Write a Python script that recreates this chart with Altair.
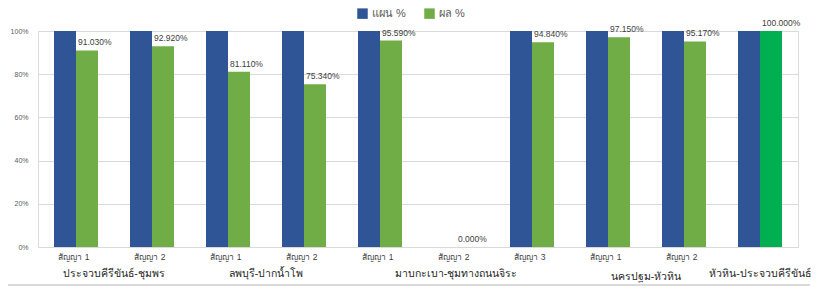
import altair as alt
import pandas as pd

slots = [1, 2, 3, 4, 5, 6, 7, 8, 9, 10]
contracts = ["สัญญา 1", "สัญญา 2", "สัญญา 1", "สัญญา 2", "สัญญา 1",
             "สัญญา 2", "สัญญา 3", "สัญญา 1", "สัญญา 2", ""]
plan = [1.0, 1.0, 1.0, 1.0, 1.0, None, 1.0, 1.0, 1.0, 1.0]
actual = [0.9103, 0.9292, 0.8111, 0.7534, 0.9559, 0.0, 0.9484, 0.9715, 0.9517, 1.0]
highlight = [False, False, False, False, False, False, False, False, False, True]

groups = ["ประจวบคีรีขันธ์-ชุมพร", "ลพบุรี-ปากน้ำโพ", "มาบกะเบา-ชุมทางถนนจิระ",
          "นครปฐม-หัวหิน", "หัวหิน-ประจวบคีรีขันธ์"]
group_first = [1, 3, 5, 8, 10]
group_last = [2, 4, 7, 9, 10]
group_row = [0, 0, 0, 1, 0]

series = ["แผน %", "ผล %"]
colors = ["#2F5597", "#70AD47"]
highlight_color = "#00B050"

FONT = "Liberation Sans"

rows = []
for s, c, p, a, h in zip(slots, contracts, plan, actual, highlight):
    if p is not None:
        rows.append({"slot": s, "series": series[0], "value": p, "side": -1, "hl": False})
    rows.append({"slot": s, "series": series[1], "value": a, "side": 0, "hl": h})
bars_df = pd.DataFrame(rows)

lab_df = pd.DataFrame({"slot": slots, "contract": contracts, "actual": actual})
grp_df = pd.DataFrame({"group": groups, "first": group_first, "last": group_last, "row": group_row})

HALF = 0.2895
xscale = alt.Scale(domain=[0.5, 10.5], nice=False, zero=False)
yscale = alt.Scale(domain=[0, 1], nice=False)

base_bars = alt.Chart(bars_df).transform_calculate(
    x0="datum.slot + datum.side * %f" % HALF,
    x1="datum.slot + (datum.side + 1) * %f" % HALF,
)

bars = base_bars.mark_bar().encode(
    x=alt.X("x0:Q", scale=xscale, axis=None),
    x2="x1:Q",
    y=alt.Y("value:Q", scale=yscale, axis=alt.Axis(
        format=".0%", values=[0, 0.2, 0.4, 0.6, 0.8, 1.0], title=None,
        domain=False, ticks=False, labelPadding=10, gridColor="#d9d9d9",
        labelFontSize=7, labelColor="#595959", labelFont=FONT)),
    y2=alt.datum(0),
    color=alt.Color("series:N", scale=alt.Scale(domain=series, range=colors),
                    legend=alt.Legend(title=None, orient="none", legendX=319, legendY=-23,
                                      direction="horizontal", symbolType="square",
                                      symbolSize=110, symbolStrokeWidth=0,
                                      labelFontSize=11, labelColor="#595959",
                                      labelFont=FONT, columnPadding=18)),
)

hl_bars = base_bars.transform_filter("datum.hl").mark_bar(color=highlight_color).encode(
    x=alt.X("x0:Q", scale=xscale), x2="x1:Q",
    y=alt.Y("value:Q", scale=yscale), y2=alt.datum(0),
)

value_labels = alt.Chart(lab_df).mark_text(
    dy=-3, dx=2, align="left", fontSize=8.5, color="#404040", font=FONT, baseline="bottom"
).encode(
    x=alt.X("slot:Q", scale=xscale),
    y=alt.Y("actual:Q", scale=yscale),
    text=alt.Text("actual:Q", format=".3%"),
)

contract_labels = alt.Chart(lab_df).mark_text(fontSize=8.5, color="#404040", font=FONT,
                                              baseline="middle", dx=-2).encode(
    x=alt.X("slot:Q", scale=xscale),
    y=alt.value(226),
    text="contract:N",
)

group_top = alt.Chart(grp_df).transform_filter("datum.row == 0").transform_calculate(
    xc="(datum.first + datum.last) / 2",
).mark_text(fontSize=10.5, color="#262626", font=FONT, baseline="middle").encode(
    x=alt.X("xc:Q", scale=xscale),
    y=alt.value(243),
    text="group:N",
)

group_low = alt.Chart(grp_df).transform_filter("datum.row == 1").transform_calculate(
    xc="(datum.first + datum.last) / 2",
).mark_text(fontSize=10.5, color="#262626", font=FONT, baseline="middle").encode(
    x=alt.X("xc:Q", scale=xscale),
    y=alt.value(246),
    text="group:N",
)

border = alt.Chart(lab_df).mark_rule(color="#d9d9d9", strokeWidth=1).encode(
    x=alt.value(-30), x2=alt.value(772), y=alt.value(254),
)

chart = alt.layer(bars, hl_bars, value_labels, contract_labels, group_top, group_low,
                  border).properties(
    width=760, height=216,
    autosize=alt.AutoSizeParams(type="none"),
    padding={"left": 30, "top": 23, "right": 13, "bottom": 50},
).configure_view(stroke=None).configure(font=FONT)

chart.save("out.html", embed_options={"renderer": "svg", "actions": False})
